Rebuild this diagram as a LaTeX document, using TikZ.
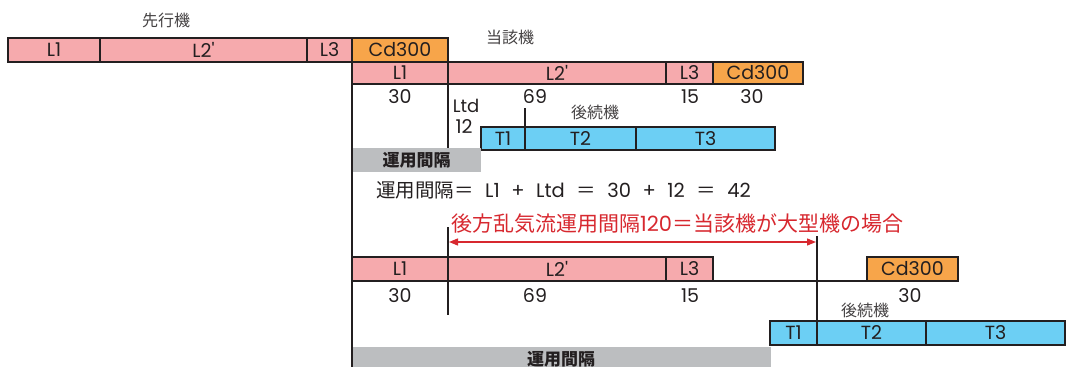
\documentclass[tikz,border=0pt]{standalone}
\usepackage{fontspec}
\setmainfont{Noto Sans CJK JP}
\newfontfamily\lat{Poppins}[Ligatures=TeXOff]
\usetikzlibrary{arrows.meta}
\definecolor{pk}{HTML}{F6AAAD}
\definecolor{og}{HTML}{F7A54A}
\definecolor{bl}{HTML}{6CCFF4}
\definecolor{gr}{HTML}{BCBEC0}
\definecolor{rd}{HTML}{D7282F}
\definecolor{ink}{HTML}{231F20}
\newcommand\seg[7]{\node[bx,fill=#2,minimum width={(#4)-(#3)},minimum height={(#6)-(#5)}] (#1) at (#3,#5) {#7};}
\newcommand\gp{\hspace{11.5pt}}
\begin{document}
\begin{tikzpicture}[x=1pt,y=-1pt,
  bx/.style={draw=ink, line width=1.1pt, inner sep=0pt, outer sep=0pt, anchor=north west,
    font=\fontsize{19}{19}\selectfont\lat, text=ink},
  gbox/.style={fill=gr, inner sep=0pt, outer sep=0pt, anchor=north west,
    font=\fontsize{17}{17}\selectfont\bfseries, text=ink},
  num/.style={font=\fontsize{19}{19}\selectfont\lat, text=ink, inner sep=0pt},
  lbl/.style={font=\fontsize{16}{16}\selectfont, text=ink!85, inner sep=0pt},
  vline/.style={draw=ink, line width=1.5pt},
  hline/.style={draw=ink, line width=1.1pt}]
\clip (0,0) rectangle (1072,367);
\useasboundingbox (0,0) rectangle (1072,367);

% --- 先行機
\node[lbl] (lead) at (166,20) {先行機};
\seg{pL1}{pk}{8}{100}{38}{62}{L1}
\seg{pL2}{pk}{100}{307}{38}{62}{L2'}
\seg{pL3}{pk}{307}{352}{38}{62}{L3}
\seg{pCd}{og}{352}{448}{38}{62}{Cd300}

% --- 当該機 (upper)
\node[lbl] (cur) at (510,37) {当該機};
\seg{cL1}{pk}{352}{448}{62}{84}{L1}
\seg{cL2}{pk}{448}{666}{62}{84}{L2'}
\seg{cL3}{pk}{666}{713}{62}{84}{L3}
\seg{cCd}{og}{713}{803}{62}{84}{Cd300}
\node[num] (n1) at (400,97) {30};
\node[num] (n2) at (535,97) {69};
\node[num] (n3) at (690,97) {15};
\node[num] (n4) at (752,97) {30};
\node[num,font=\fontsize{18}{18}\selectfont\lat] (ltd) at (466,106) {Ltd};
\node[num] (ltdv) at (464,127) {12};

% --- 後続機 (upper)
\node[lbl] (fol1) at (595,112) {後続機};
\seg{uT1}{bl}{481}{525}{127}{150}{T1}
\seg{uT2}{bl}{525}{636}{127}{150}{T2}
\seg{uT3}{bl}{636}{775}{127}{150}{T3}
\node[gbox,minimum width=129pt,minimum height=24pt] (g1) at (352,148) {運用間隔};
\coordinate (t69) at (525,108);
\draw[vline] (t69) -- (uT1.south east);
\coordinate (g1top) at (448,148);
\draw[vline] (pCd.north east) -- (g1top);

% --- formula
\node[anchor=west,inner sep=0pt,font=\fontsize{19.5}{19.5}\selectfont,text=ink] (formula) at (376,190)
  {運用間隔＝{\lat\gp L1\gp +\gp Ltd\gp}＝{\lat\gp 30\gp +\gp 12\gp}＝{\lat\gp 42}};
\node[anchor=west,inner sep=0pt,font=\fontsize{21}{21}\selectfont,text=rd] (red) at (451,224)
  {後方乱気流運用間隔{\lat 120}＝当該機が大型機の場合};

% --- lower
\coordinate (a1) at (448,227);
\coordinate (a1b) at (448,315);
\coordinate (a2) at (817,236);
\draw[vline] (a1) -- (a1b);
\coordinate (ar1) at (449,242);
\coordinate (ar2) at (816,242);
\draw[rd, line width=1.3pt, {Triangle[length=9pt,width=7pt]}-{Triangle[length=9pt,width=7pt]}] (ar1) -- (ar2);

\seg{bL1}{pk}{352}{448}{257}{281}{L1}
\seg{bL2}{pk}{448}{666}{257}{281}{L2'}
\seg{bL3}{pk}{666}{713}{257}{281}{L3}
\seg{bCd}{og}{867}{958}{257}{281}{Cd300}
\draw[hline] (bL3.south east) -- (bCd.south west);
\node[num] (m1) at (400,296) {30};
\node[num] (m2) at (535,296) {69};
\node[num] (m3) at (690,296) {15};
\node[num] (m4) at (910,296) {30};
\node[lbl] (fol2) at (865,310) {後続機};
\seg{lT1}{bl}{770}{817}{321}{345}{T1}
\seg{lT2}{bl}{817}{926}{321}{345}{T2}
\seg{lT3}{bl}{926}{1065}{321}{345}{T3}
\draw[vline] (a2) -- (lT1.south east);
\node[gbox,minimum width=419pt,minimum height=24pt] (g2) at (352,347) {};
\node[font=\fontsize{17}{17}\selectfont\bfseries,text=ink,inner sep=0pt] (g2t) at (561,359) {運用間隔};

\coordinate (lt) at (352,62);
\coordinate (lb) at (352,367);
\draw[vline] (lt) -- (lb);
\end{tikzpicture}
\end{document}
